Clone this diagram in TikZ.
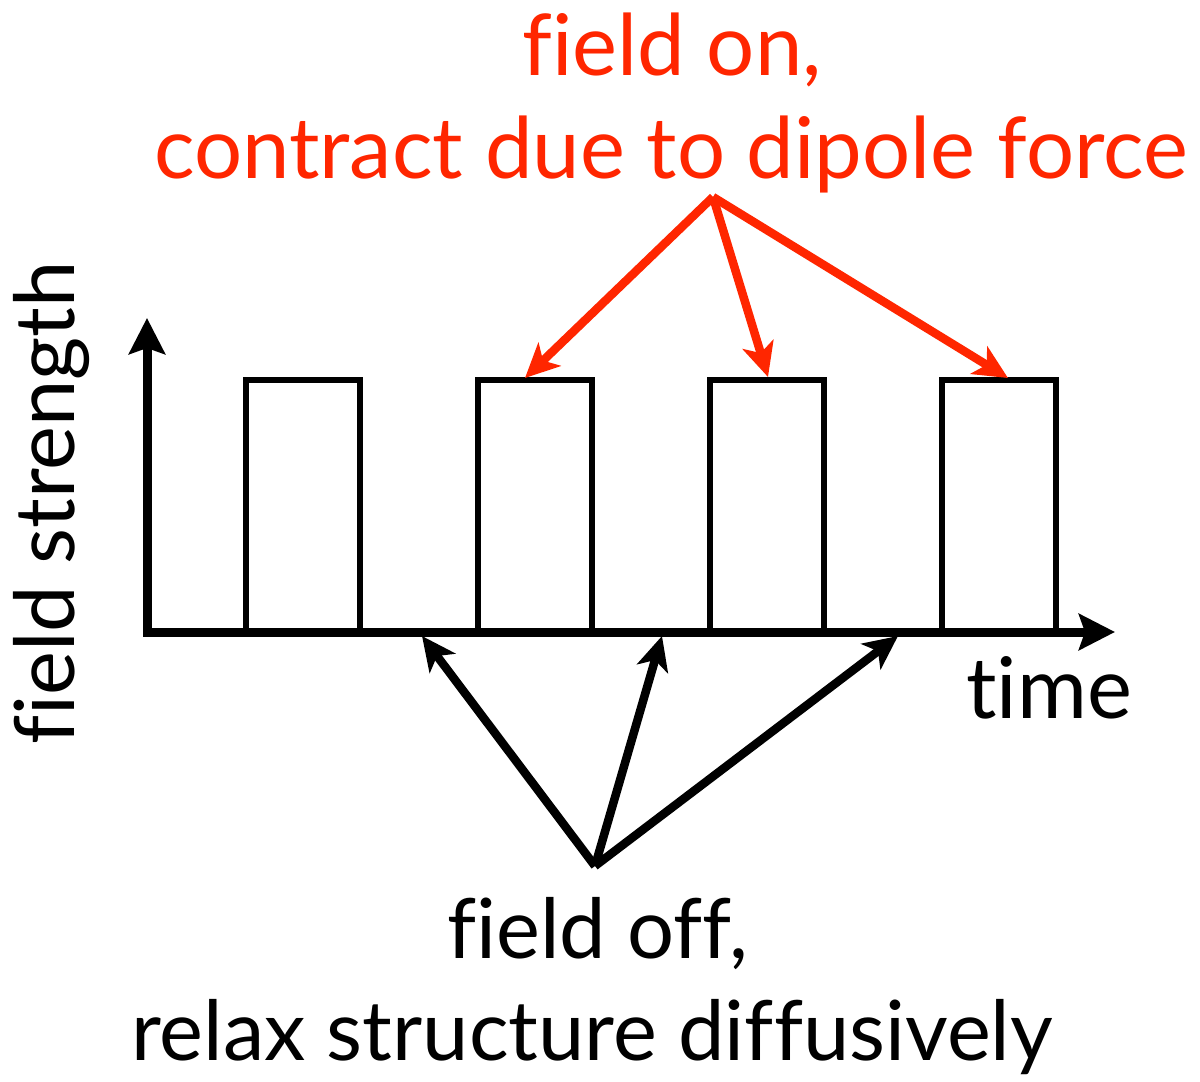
\documentclass[tikz,border=0pt]{standalone}
\usepackage{fontspec}
\setmainfont{Lato}[Ligatures={NoCommon,NoRequired,NoContextual}]
\usetikzlibrary{arrows.meta}
\definecolor{keyred}{RGB}{255,38,0}
\begin{document}
\begin{tikzpicture}[x=1pt,y=-1pt,
  axis/.style={line width=9pt,line join=miter,{Stealth[length=36pt,width=36pt,inset=6pt]}-{Stealth[length=36pt,width=36pt,inset=6pt]}},
  bar/.style={draw,line width=6pt,minimum width=114pt,minimum height=252pt,inner sep=0pt,outer sep=0pt,anchor=south west},
  ptr/.style={line width=8.5pt,-{Stealth[length=34pt,width=32pt,inset=9pt]}},
  lbl/.style={font=\fontsize{85}{102}\selectfont,inner sep=0pt,anchor=base}]
\useasboundingbox (0,0) rectangle (1200,1082);
% bars
\node[bar] (b1) at (245.5,632) {};
\node[bar] (b2) at (477.5,632) {};
\node[bar] (b3) at (709.5,632) {};
\node[bar] (b4) at (941.5,632) {};
% axes
\coordinate (ytip) at (147,318);
\coordinate (orig) at (147,632);
\coordinate (xtip) at (1115,632);
\draw[axis] (ytip) -- (orig) -- (xtip);
% labels
\node[lbl,rotate=90,anchor=center,font=\fontsize{83}{100}\selectfont] (ylab) at (52,503) {field strength};
\node[lbl] (xlab) at (1049,718) {time};
\node[lbl,text=keyred] (on1) at (672,75) {field on,};
\node[lbl,text=keyred] (on2) at (671,178) {contract due to dipole force};
\node[lbl,font=\fontsize{83}{100}\selectfont] (off1) at (598,958) {field off,};
\node[lbl,font=\fontsize{83}{100}\selectfont] (off2) at (592,1060) {relax structure diffusively};
% red pointers
\coordinate (rsrc) at (713,197);
\coordinate (rt1) at (525,378);
\coordinate (rt2) at (768,377);
\coordinate (rt3) at (1008,378);
\draw[ptr,keyred] (rsrc) -- (rt1);
\draw[ptr,keyred] (rsrc) -- (rt2);
\draw[ptr,keyred] (rsrc) -- (rt3);
% black pointers
\coordinate (bsrc) at (595,866);
\coordinate (bt1) at (422,636);
\coordinate (bt2) at (662,636);
\coordinate (bt3) at (898,636);
\draw[ptr] (bsrc) -- (bt1);
\draw[ptr] (bsrc) -- (bt2);
\draw[ptr] (bsrc) -- (bt3);
\end{tikzpicture}
\end{document}
